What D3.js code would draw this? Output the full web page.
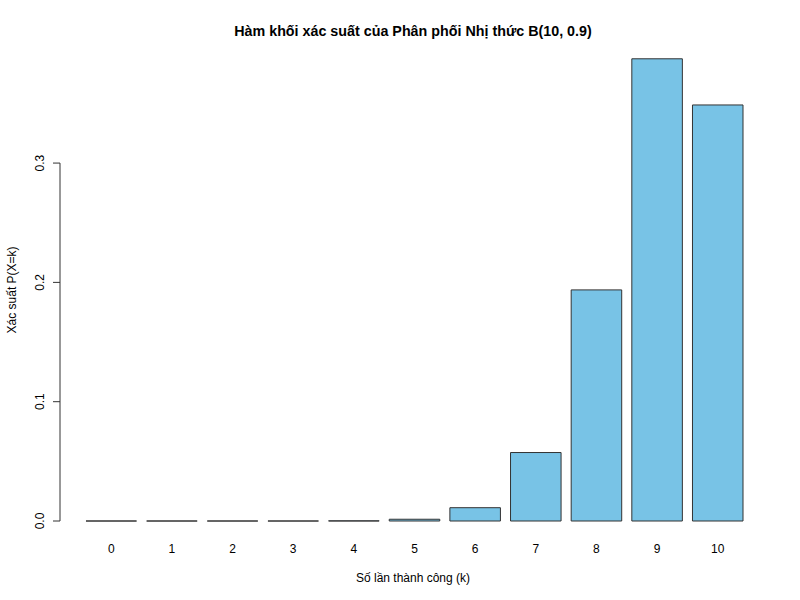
<!DOCTYPE html>
<html><head><meta charset="utf-8">
<script src="https://cdn.jsdelivr.net/npm/d3@7"></script>
<style>body{margin:0;background:#fff}svg{display:block;font-family:"Liberation Sans",Arial,sans-serif}</style>
</head><body>
<svg id="c" width="800" height="600"></svg>
<script>
const categories = ["0","1","2","3","4","5","6","7","8","9","10"];
const probabilities = [1e-10, 9e-9, 3.645e-7, 8.748e-6, 0.0001378, 0.001488, 0.01116, 0.05740, 0.1937, 0.3874, 0.3487];
const yTicks = [0, 0.1, 0.2, 0.3];
const yTickLabels = ["0.0", "0.1", "0.2", "0.3"];
const title = "Hàm khối xác suất của Phân phối Nhị thức B(10, 0.9)";
const xLabel = "Số lần thành công (k)";
const yLabel = "Xác suất P(X=k)";

const svg = d3.select("#c");
const L = 49.2, R = 769.7, T = 40.3, B = 539.5;
const n = categories.length;
const span = n * 1.2;
const x = d3.scaleLinear().domain([-0.04 * span, span * 1.04]).range([L, R]);
const ymax = d3.max(probabilities);
const y = d3.scaleLinear().domain([-0.04 * ymax, ymax * 1.04]).range([B, T]);

svg.selectAll("path.bar").data(probabilities).join("path")
  .attr("class", "bar")
  .attr("d", (d, i) => {
    const x0 = x(0.2 + i * 1.2), x1 = x(1.2 + i * 1.2);
    const p = d3.path();
    p.moveTo(x0, y(0)); p.lineTo(x1, y(0)); p.lineTo(x1, y(d)); p.lineTo(x0, y(d)); p.closePath();
    return p.toString();
  })
  .attr("fill", "#78c3e6")
  .attr("stroke", "#333")
  .attr("stroke-width", 1);

svg.selectAll("text.xt").data(categories).join("text")
  .attr("class", "xt")
  .attr("x", (d, i) => x(0.7 + i * 1.2))
  .attr("y", 553)
  .attr("text-anchor", "middle")
  .attr("font-size", 12)
  .text(d => d);

const ax = svg.append("g").attr("transform", `translate(60,0)`);
ax.append("line").attr("x1", 0).attr("x2", 0).attr("y1", y(0)).attr("y2", y(0.3)).attr("stroke", "#333");
ax.selectAll("line.t").data(yTicks).join("line").attr("class", "t")
  .attr("x1", 0).attr("x2", -7).attr("y1", d => y(d)).attr("y2", d => y(d)).attr("stroke", "#333");
ax.selectAll("text").data(yTicks).join("text")
  .attr("transform", d => `translate(-16,${y(d)}) rotate(-90)`)
  .attr("text-anchor", "middle")
  .attr("font-size", 12)
  .text((d, i) => yTickLabels[i]);

svg.append("text").attr("x", 413).attr("y", 36).attr("text-anchor", "middle")
  .attr("font-size", 14.3).attr("font-weight", "bold").text(title);
svg.append("text").attr("x", 413).attr("y", 582).attr("text-anchor", "middle")
  .attr("font-size", 12).text(xLabel);
svg.append("text").attr("transform", `translate(16,${(T + B) / 2}) rotate(-90)`).attr("text-anchor", "middle")
  .attr("font-size", 12).text(yLabel);
</script>
</body></html>
